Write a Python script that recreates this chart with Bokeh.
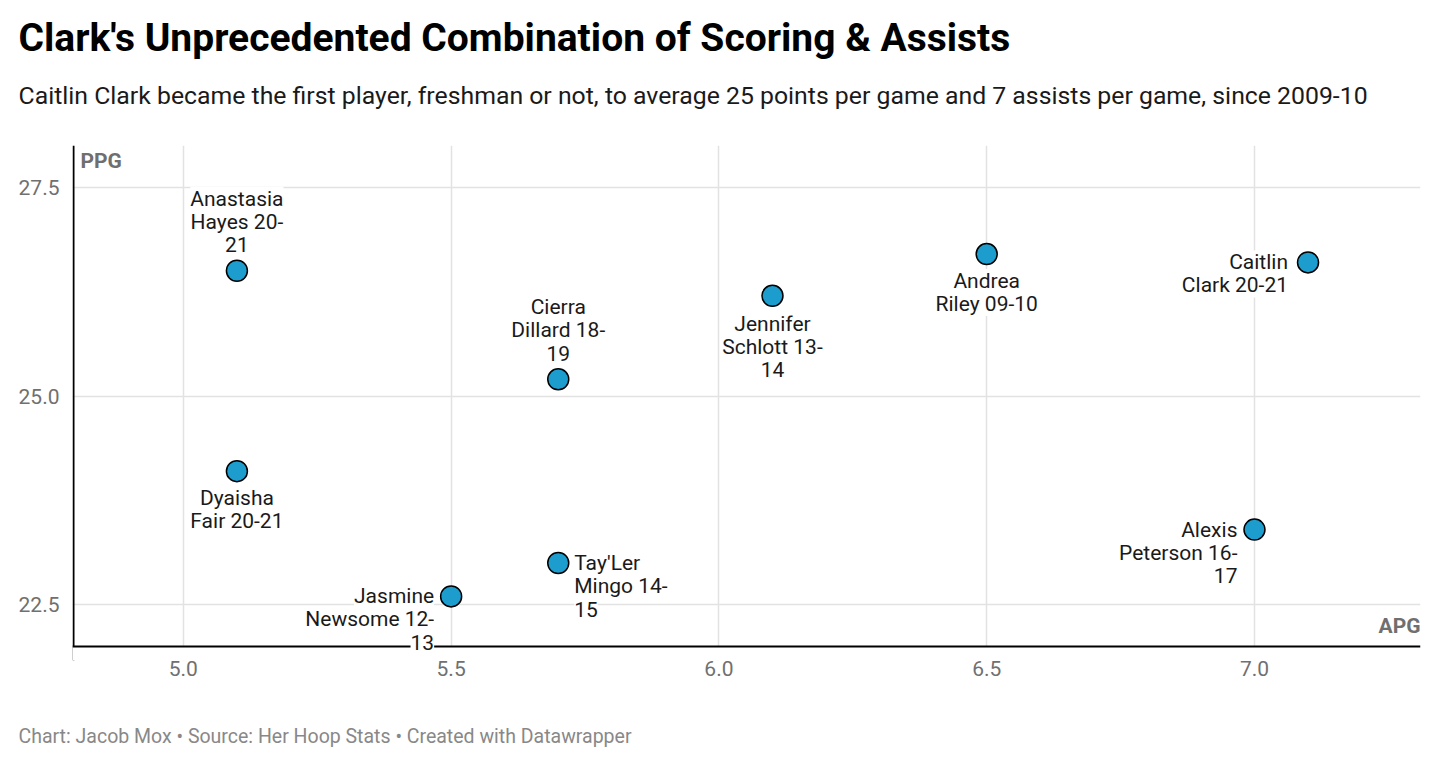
from bokeh.plotting import figure
from bokeh.models import (ColumnDataSource, Label, Title, Range1d, Span, BoxAnnotation,
                          FixedTicker, NumeralTickFormatter)
from bokeh.embed import file_html
from bokeh.resources import INLINE

# ---- data ----
players = ["Anastasia Hayes 20-21", "Dyaisha Fair 20-21", "Jasmine Newsome 12-13",
           "Tay'Ler Mingo 14-15", "Cierra Dillard 18-19", "Jennifer Schlott 13-14",
           "Andrea Riley 09-10", "Caitlin Clark 20-21", "Alexis Peterson 16-17"]
label_text = ["Anastasia\nHayes 20-\n21", "Dyaisha\nFair 20-21", "Jasmine\nNewsome 12-\n13",
              "Tay'Ler\nMingo 14-\n15", "Cierra\nDillard 18-\n19", "Jennifer\nSchlott 13-\n14",
              "Andrea\nRiley 09-10", "Caitlin\nClark 20-21", "Alexis\nPeterson 16-\n17"]
apg = [5.1, 5.1, 5.5, 5.7, 5.7, 6.1, 6.5, 7.1, 7.0]
ppg = [26.5, 24.1, 22.6, 23.0, 25.2, 26.2, 26.7, 26.6, 23.4]
x_ticks = [5.0, 5.5, 6.0, 6.5, 7.0]
y_ticks = [22.5, 25.0, 27.5]
x_min, x_max = 4.793, 7.31
y_min, y_max = 22.0, 28.0

title_text = "Clark's Unprecedented Combination of Scoring & Assists"
subtitle_text = ("Caitlin Clark became the first player, freshman or not, to average 25 points "
                 "per game and 7 assists per game, since 2009-10")
caption_text = "Chart: Jacob Mox \u2022 Source: Her Hoop Stats \u2022 Created with Datawrapper"

# ---- label placement (style): align, x offset, first-line y offset (up +), side
placement = {
    "Anastasia Hayes 20-21": ("center", 0, None, "above"),
    "Dyaisha Fair 20-21": ("center", 0, -27, "below"),
    "Jasmine Newsome 12-13": ("right", -17, 0, "side"),
    "Tay'Ler Mingo 14-15": ("left", 16, 0, "side"),
    "Cierra Dillard 18-19": ("center", 0, None, "above"),
    "Jennifer Schlott 13-14": ("center", 0, -28, "below"),
    "Andrea Riley 09-10": ("center", 0, -27, "below"),
    "Caitlin Clark 20-21": ("right", -20, 0, "side"),
    "Alexis Peterson 16-17": ("right", -17, 0, "side"),
}
LINE_H = 23
ABOVE_GAP = 26

FONT = "Roboto"
FRAME_W = 1348
PX_PER_X = FRAME_W / (x_max - x_min)
PX_PER_Y = 501 / (y_max - y_min)
EXTRA = 14  # extra frame room below the axis line so labels there are not clipped

p = figure(frame_width=FRAME_W, frame_height=501 + EXTRA,
           min_border_left=72, min_border_right=28,
           min_border_top=145, min_border_bottom=124 - EXTRA,
           x_range=Range1d(x_min, x_max),
           y_range=Range1d(y_min - EXTRA / PX_PER_Y, y_max),
           output_backend="svg", toolbar_location=None, title=None)

p.outline_line_color = None
p.background_fill_color = "white"
p.border_fill_color = "white"

# grid
p.xgrid.ticker = FixedTicker(ticks=x_ticks)
p.ygrid.ticker = FixedTicker(ticks=y_ticks)
for g in (p.xgrid, p.ygrid):
    g.grid_line_color = "#e2e2e2"
    g.grid_line_width = 1.5

# axes (tick labels only; axis lines drawn as spans)
p.xaxis.ticker = FixedTicker(ticks=x_ticks)
p.yaxis.ticker = FixedTicker(ticks=y_ticks)
for ax in (p.xaxis, p.yaxis):
    ax.formatter = NumeralTickFormatter(format="0.0")
    ax.axis_line_color = None
    ax.major_tick_line_color = None
    ax.minor_tick_line_color = None
    ax.major_label_text_font = FONT
    ax.major_label_text_font_size = "21px"
    ax.major_label_text_color = "#707070"
p.xaxis.major_label_standoff = 8 - EXTRA
p.yaxis.major_label_standoff = 7

# left axis line, white cover below the bottom axis line, then the bottom line
p.add_layout(Span(location=x_min + 1 / PX_PER_X, dimension="height",
                  line_color="black", line_width=2))
p.add_layout(BoxAnnotation(top=y_min, fill_color="white", fill_alpha=1.0,
                           line_color=None))
p.add_layout(Span(location=y_min, dimension="width", line_color="black",
                  line_width=2))

# points
src = ColumnDataSource(dict(x=apg, y=ppg, name=players))
p.scatter("x", "y", source=src, size=21, fill_color="#1c9dce",
          line_color="black", line_width=1.5)

# point labels, one Label per wrapped line
for xv, yv, name, txt in zip(apg, ppg, players, label_text):
    align, xo, first, side = placement[name]
    lines = txt.split("\n")
    n = len(lines)
    for j, line in enumerate(lines):
        if side == "above":
            yo = ABOVE_GAP + (n - 1 - j) * LINE_H
        else:
            yo = first - j * LINE_H
        p.add_layout(Label(x=xv, y=yv, text=line, x_offset=xo, y_offset=yo,
                           text_align=align, text_baseline="middle",
                           text_font=FONT, text_font_size="21px",
                           text_color="#1a1a1a", background_fill_color="white"))

# axis titles inside plot
p.add_layout(Label(x=x_min, y=y_max, text="PPG",
                   x_offset=8, y_offset=-3, text_baseline="top", text_align="left",
                   text_font=FONT, text_font_size="21px", text_font_style="bold",
                   text_color="#6f6f6f"))
p.add_layout(Label(x=x_max, y=y_min, text="APG",
                   x_offset=0, y_offset=9, text_baseline="bottom", text_align="right",
                   text_font=FONT, text_font_size="21px", text_font_style="bold",
                   text_color="#6f6f6f"))

# titles (stack outward from the frame)
p.add_layout(Title(text=" ", text_font=FONT, text_font_size="10px",
                   standoff=16), "above")
p.add_layout(Title(text=subtitle_text, text_font=FONT, text_font_size="24.8px",
                   text_font_style="normal", text_color="#1a1a1a", align="left",
                   offset=-54, standoff=14), "above")
p.add_layout(Title(text=title_text, text_font=FONT, text_font_size="39px",
                   text_font_style="bold", text_color="black", align="left",
                   offset=-54, standoff=21), "above")
p.add_layout(Title(text=caption_text, text_font=FONT, text_font_size="19.5px",
                   text_font_style="normal", text_color="#888888", align="left",
                   offset=-54, standoff=89), "below")

open("out.html", "w").write(file_html(p, INLINE))
